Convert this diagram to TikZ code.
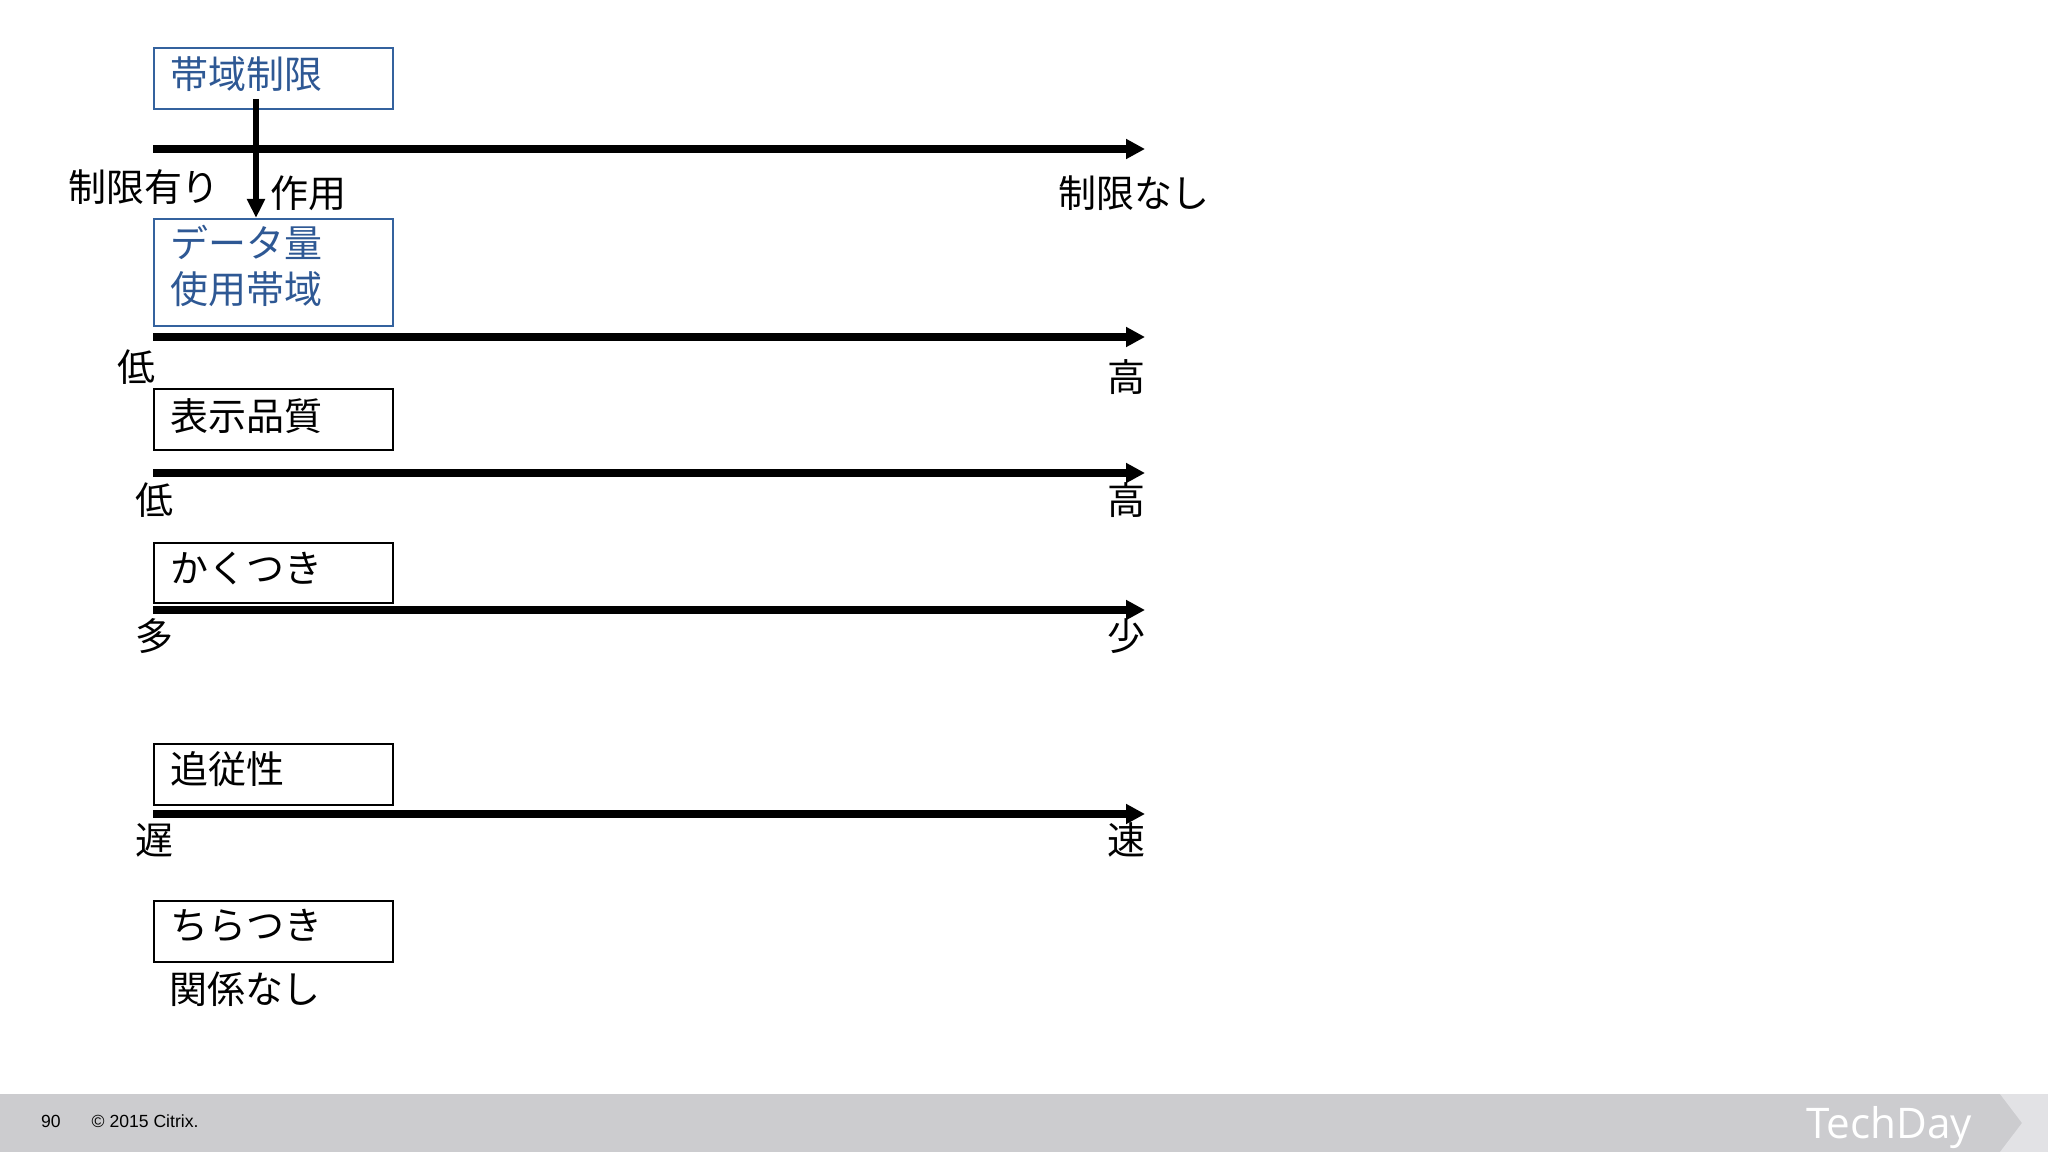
\documentclass[tikz,border=0pt]{standalone}
\usepackage{fontspec}
\setmainfont{Liberation Sans}
\newfontfamily\jp{Noto Sans CJK JP}
\newfontfamily\tdfont{Open Sans}
\usetikzlibrary{arrows.meta}
\definecolor{bxblue}{RGB}{52,98,158}
\definecolor{txblue}{RGB}{46,88,148}
\definecolor{band}{RGB}{204,204,207}
\definecolor{bandlight}{RGB}{226,226,229}
\tikzset{
  x=0.01cm, y=-0.01cm,
  jptext/.style={font=\jp\fontsize{10.8}{13}\selectfont, inner sep=0pt},
  lbl/.style={jptext, anchor=center},
  boxbase/.style={draw, line width=0.55pt, minimum width=2.39cm, anchor=north west, inner sep=0pt},
  bluebox/.style={boxbase, draw=bxblue},
  blackbox/.style={boxbase, draw=black},
  boxtext/.style={jptext, anchor=west, align=left},
  axis/.style={line width=2pt, -{Triangle[length=0.19cm,width=0.19cm]}, shorten >=-0.02cm},
  varrow/.style={line width=1.8pt, -{Triangle[length=0.19cm,width=0.17cm]}},
}
\begin{document}
\begin{tikzpicture}
\useasboundingbox (0,0) rectangle (2048,1152);
\fill[white] (0,0) rectangle (2048,1152);

% footer band
\fill[band] (0,1094) rectangle (2048,1152);
\fill[bandlight] (2000,1094) -- (2022,1123) -- (2000,1152) -- (2048,1152) -- (2048,1094) -- cycle;
\node[font=\fontsize{5}{6}\selectfont, anchor=center] (pg) at (51,1121) {90};
\node[font=\fontsize{5}{6}\selectfont, anchor=west, inner sep=0pt] (copy) at (91,1121) {© 2015 Citrix.};
\node[font=\tdfont\fontsize{12}{14}\selectfont, text=white, anchor=center] (td) at (1889,1128) {TechDay};

% boxes
\node[bluebox, minimum height=0.61cm] (b1) at (153,47) {};
\node[bluebox, minimum height=1.07cm] (b2) at (153,218) {};
\node[blackbox, minimum height=0.61cm] (b3) at (153,388) {};
\node[blackbox, minimum height=0.60cm] (b4) at (153,542) {};
\node[blackbox, minimum height=0.61cm] (b5) at (153,743) {};
\node[blackbox, minimum height=0.61cm] (b6) at (153,900) {};

% box texts
\node[boxtext, text=txblue] (t1) at (170,74) {帯域制限};
\node[boxtext, text=txblue] (t2) at (170,266) {データ量\\使用帯域};
\node[boxtext] (t3) at (170,416) {表示品質};
\node[boxtext] (t4) at (170,568) {かくつき};
\node[boxtext] (t5) at (170,769) {追従性};
\node[boxtext] (t6) at (170,926) {ちらつき};

% axes
\coordinate (a1s) at (153,149); \coordinate (a1e) at (1143,149);
\coordinate (a2s) at (153,337); \coordinate (a2e) at (1143,337);
\coordinate (a3s) at (153,473); \coordinate (a3e) at (1143,473);
\coordinate (a4s) at (153,610); \coordinate (a4e) at (1143,610);
\coordinate (a5s) at (153,814); \coordinate (a5e) at (1143,814);
\draw[axis] (a1s) -- (a1e);
\draw[axis] (a2s) -- (a2e);
\draw[axis] (a3s) -- (a3e);
\draw[axis] (a4s) -- (a4e);
\draw[axis] (a5s) -- (a5e);

% vertical arrow
\coordinate (vs) at (256,99);
\draw[varrow] (vs) -- (vs |- b2.north);

% labels
\node[lbl] (l1a) at (144,187) {制限有り};
\node[lbl] (l1m) at (308,193) {作用};
\node[lbl] (l1b) at (1134,193) {制限なし};
\node[lbl] (l2a) at (136,367) {低};
\node[lbl] (l2b) at (1126,377) {高};
\node[lbl] (l3a) at (154,500) {低};
\node[lbl] (l3b) at (1126,500) {高};
\node[lbl] (l4a) at (154,636) {多};
\node[lbl] (l4b) at (1126,636) {少};
\node[lbl] (l5a) at (154,840) {遅};
\node[lbl] (l5b) at (1126,840) {速};
\node[lbl] (l6) at (245,989) {関係なし};
\end{tikzpicture}
\end{document}
